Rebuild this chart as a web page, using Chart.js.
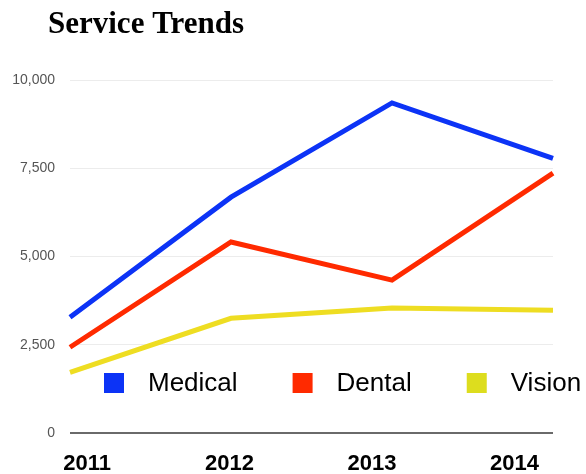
<!DOCTYPE html>
<html>
<head>
<meta charset="utf-8">
<title>Service Trends</title>
<script src="https://cdn.jsdelivr.net/npm/chart.js@4.4.1/dist/chart.umd.min.js"></script>
<style>
  html, body { margin: 0; padding: 0; background: #fff; }
  #wrap { position: relative; width: 586px; height: 474px; }
</style>
</head>
<body>
<div id="wrap"><canvas id="chart" width="586" height="474"></canvas></div>
<script>
// donnees du graphique
const years = ['2011', '2012', '2013', '2014'];
const medical = [3280, 6680, 9350, 7780];
const dental = [2430, 5410, 4330, 7360];
const vision = [1720, 3250, 3540, 3480];
const yTicks = [0, 2500, 5000, 7500, 10000];

const seriesNames = ['Medical', 'Dental', 'Vision'];
const lineColors = ['#0c33f6', '#ff2a00', '#eedd22'];
const boxColors = ['#0c33f6', '#ff2a00', '#dddd1e'];

// titre + legende dessines directement sur le canvas (legende dans la zone du graphe)
const decorPlugin = {
  id: 'decor',
  afterDraw(chart) {
    const ctx = chart.ctx;
    const area = chart.chartArea;
    ctx.save();
    ctx.fillStyle = '#000';
    ctx.textBaseline = 'alphabetic';
    ctx.textAlign = 'left';
    ctx.font = 'bold 31px "Liberation Serif", "Times New Roman", serif';
    ctx.fillText('Service Trends', 48, 33);

    ctx.font = '26px "Liberation Sans", Arial, sans-serif';
    ctx.textBaseline = 'middle';
    let x = area.left + 34;
    const y = area.bottom - 50;
    chart.data.datasets.forEach((ds, i) => {
      ctx.fillStyle = boxColors[i];
      ctx.fillRect(x, y - 10, 20, 20);
      x += 44;
      ctx.fillStyle = '#000';
      ctx.fillText(ds.label, x, y + 1);
      x += ctx.measureText(ds.label).width + 55;
    });
    ctx.restore();
  }
};

const ctx = document.getElementById('chart');

new Chart(ctx, {
  type: 'line',
  data: {
    labels: years,
    datasets: [
      { label: seriesNames[0], data: medical, borderColor: lineColors[0] },
      { label: seriesNames[1], data: dental, borderColor: lineColors[1] },
      { label: seriesNames[2], data: vision, borderColor: lineColors[2] },
    ]
  },
  options: {
    responsive: false,
    animation: false,
    layout: { padding: { top: 80, left: 12, right: 33, bottom: 1 } },
    elements: {
      line: { borderWidth: 5, tension: 0, borderJoinStyle: 'miter', borderCapStyle: 'butt', fill: false },
      point: { radius: 0, hoverRadius: 0 }
    },
    plugins: {
      legend: { display: false },
      title: { display: false },
      tooltip: { enabled: false }
    },
    scales: {
      // axe des donnees (cache)
      x: {
        type: 'category',
        display: false,
        offset: false
      },
      // axe des etiquettes d'annees
      xYears: {
        type: 'linear',
        position: 'bottom',
        min: -0.12,
        max: 3.27,
        afterBuildTicks: axis => { axis.ticks = years.map((_, i) => ({ value: i })); },
        afterFit: axis => { axis.height = 40; },
        grid: { display: false, drawTicks: false },
        border: { display: false },
        ticks: {
          padding: 18,
          color: '#000',
          maxRotation: 0,
          autoSkip: false,
          font: { family: '"Liberation Sans", Arial, sans-serif', size: 22, weight: 'bold' },
          callback: v => years[v]
        }
      },
      y: {
        min: 0,
        max: 10000,
        afterBuildTicks: axis => { axis.ticks = yTicks.map(v => ({ value: v })); },
        afterFit: axis => { axis.width = 58; },
        border: { display: false },
        grid: {
          drawTicks: false,
          color: c => c.tick && c.tick.value === 0 ? '#6a6a6a' : '#ececec',
          lineWidth: c => c.tick && c.tick.value === 0 ? 2 : 1
        },
        ticks: {
          padding: 15,
          color: '#555',
          font: { family: '"Liberation Sans", Arial, sans-serif', size: 14 },
          callback: v => v.toLocaleString('en-US')
        }
      }
    }
  },
  plugins: [decorPlugin]
});
</script>
</body>
</html>
